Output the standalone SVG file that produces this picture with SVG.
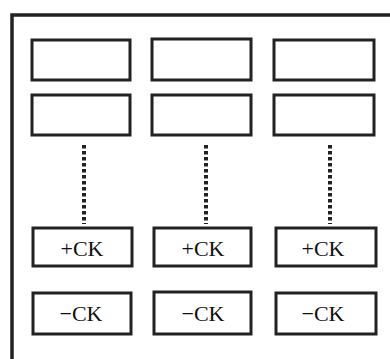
<svg xmlns="http://www.w3.org/2000/svg" width="390" height="359" viewBox="0 0 390 359">
<style>
.b{fill:#fff;stroke:#222;stroke-width:3}
.f{fill:none;stroke:#222;stroke-width:3.5}
.d{stroke:#222;stroke-width:4;stroke-dasharray:3.5 2.5}
.t{font-family:"Liberation Serif",serif;font-size:22px;fill:#111;text-anchor:middle}
</style>
<rect width="390" height="359" fill="#fff"/>
<path class="f" d="M12,360 V15 H392"/>
<g id="connectors">
<line class="d" x1="84" y1="145" x2="84" y2="224"/>
<line class="d" x1="206" y1="145" x2="206" y2="224"/>
<line class="d" x1="330" y1="145" x2="330" y2="224"/>
</g>
<g id="r1c1"><rect class="b" x="32" y="40" width="98" height="40"/></g>
<g id="r1c2"><rect class="b" x="152" y="39" width="99" height="41"/></g>
<g id="r1c3"><rect class="b" x="274" y="40" width="100" height="40"/></g>
<g id="r2c1"><rect class="b" x="32" y="95" width="98" height="40"/></g>
<g id="r2c2"><rect class="b" x="152" y="95" width="99" height="40"/></g>
<g id="r2c3"><rect class="b" x="274" y="95" width="100" height="40"/></g>
<g id="p1"><rect class="b" x="33" y="228" width="99" height="38"/><text class="t" x="82" y="256">+CK</text></g>
<g id="p2"><rect class="b" x="154" y="228" width="97" height="38"/><text class="t" x="203" y="256">+CK</text></g>
<g id="p3"><rect class="b" x="276" y="228" width="100" height="38"/><text class="t" x="323" y="256">+CK</text></g>
<g id="m1"><rect class="b" x="33" y="293" width="98" height="41"/><text class="t" x="81" y="321">−CK</text></g>
<g id="m2"><rect class="b" x="154" y="292" width="97" height="42"/><text class="t" x="203" y="321">−CK</text></g>
<g id="m3"><rect class="b" x="276" y="293" width="100" height="41"/><text class="t" x="323" y="321">−CK</text></g>
</svg>
